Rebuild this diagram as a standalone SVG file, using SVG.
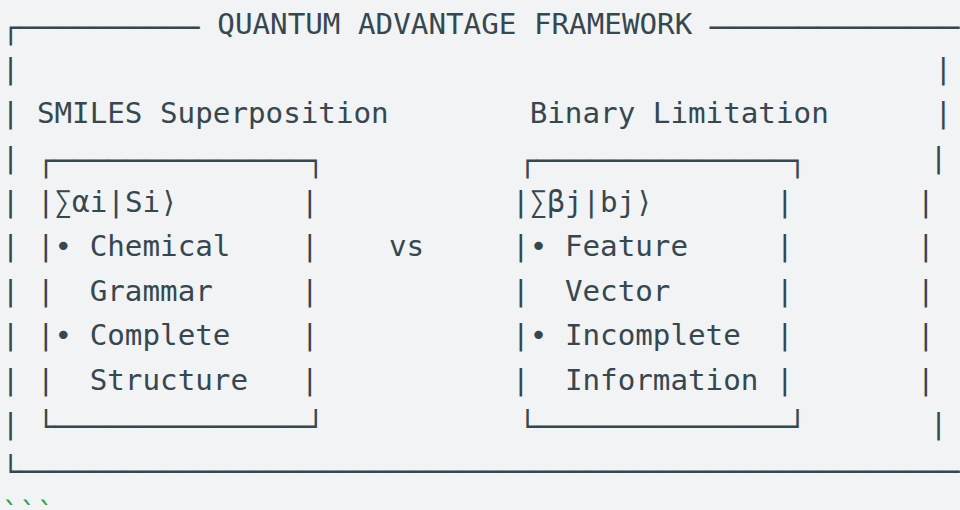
<svg xmlns="http://www.w3.org/2000/svg" width="960" height="510" viewBox="0 0 960 510">
<style>
.t{font-family:"DejaVu Sans Mono","Liberation Mono",monospace;font-size:29.23px;fill:#37474f}
.b{font-family:"DejaVu Sans Mono","Liberation Mono",monospace;font-size:29.9px;fill:#37474f}
.g{font-family:"DejaVu Sans Mono","Liberation Mono",monospace;font-size:29.23px;fill:#2f9e44}
</style>
<rect width="960" height="510" fill="#f1f3f5"/>
<g id="frame">
  <text class="b" x="1.7" y="37.8">┌──────────</text>
  <text class="t" x="217.3" y="34.3">QUANTUM ADVANTAGE FRAMEWORK</text>
  <text class="b" x="710.1" y="37.8" textLength="249.5" lengthAdjust="spacingAndGlyphs">──────────────</text>
  <text class="t" x="1.7" y="78.7">|</text><text class="t" x="934.5" y="78.7">|</text>
  <text class="t" x="1.7" y="123.1">|</text><text class="t" x="934.5" y="123.1">|</text>
  <text class="t" x="1.7" y="167.5">|</text><text class="t" x="929.7" y="167.5">|</text>
  <text class="t" x="1.7" y="211.9">|</text><text class="t" x="916.9" y="211.9">|</text>
  <text class="t" x="1.7" y="256.3">|</text><text class="t" x="916.9" y="256.3">|</text>
  <text class="t" x="1.7" y="300.7">|</text><text class="t" x="916.9" y="300.7">|</text>
  <text class="t" x="1.7" y="345.1">|</text><text class="t" x="916.9" y="345.1">|</text>
  <text class="t" x="1.7" y="389.5">|</text><text class="t" x="916.9" y="389.5">|</text>
  <text class="t" x="1.7" y="433.9">|</text><text class="t" x="929.7" y="433.9">|</text>
  <text class="b" x="1.7" y="481.8" textLength="958" lengthAdjust="spacingAndGlyphs">└─────────────────────────────────────────────────────</text>
</g>
<g id="smiles-superposition">
  <text class="t" x="36.9" y="123.1">SMILES Superposition</text>
  <text class="b" x="36.9" y="171">┌──────────────┐</text>
  <text class="t" x="36.9" y="211.9">|</text>
  <text class="t" x="54.5 72.1 89.7 107.3 124.9 142.5 160.1" y="211.9">∑αi|Si⟩</text>
  <text class="t" x="300.9" y="211.9">|</text>
  <text class="t" x="36.9" y="256.3">|</text><text class="t" x="54.5" y="256.3">•</text><text class="t" x="89.7" y="256.3">Chemical</text><text class="t" x="300.9" y="256.3">|</text>
  <text class="t" x="36.9" y="300.7">|</text><text class="t" x="89.7" y="300.7">Grammar</text><text class="t" x="300.9" y="300.7">|</text>
  <text class="t" x="36.9" y="345.1">|</text><text class="t" x="54.5" y="345.1">•</text><text class="t" x="89.7" y="345.1">Complete</text><text class="t" x="300.9" y="345.1">|</text>
  <text class="t" x="36.9" y="389.5">|</text><text class="t" x="89.7" y="389.5">Structure</text><text class="t" x="300.9" y="389.5">|</text>
  <text class="b" x="36.9" y="437.4">└──────────────┘</text>
</g>
<g id="versus">
  <text class="t" x="388.9" y="256.3">vs</text>
</g>
<g id="binary-limitation">
  <text class="t" x="529.7" y="123.1">Binary Limitation</text>
  <text class="b" x="518.5" y="171">┌──────────────┐</text>
  <text class="t" x="512.1" y="211.9">|</text>
  <text class="t" x="529.7 547.3 564.9 582.5 600.1 617.7 635.3" y="211.9">∑βj|bj⟩</text>
  <text class="t" x="776.1" y="211.9">|</text>
  <text class="t" x="512.1" y="256.3">|</text><text class="t" x="529.7" y="256.3">•</text><text class="t" x="564.9" y="256.3">Feature</text><text class="t" x="776.1" y="256.3">|</text>
  <text class="t" x="512.1" y="300.7">|</text><text class="t" x="564.9" y="300.7">Vector</text><text class="t" x="776.1" y="300.7">|</text>
  <text class="t" x="512.1" y="345.1">|</text><text class="t" x="529.7" y="345.1">•</text><text class="t" x="564.9" y="345.1">Incomplete</text><text class="t" x="776.1" y="345.1">|</text>
  <text class="t" x="512.1" y="389.5">|</text><text class="t" x="564.9" y="389.5">Information</text><text class="t" x="776.1" y="389.5">|</text>
  <text class="b" x="518.5" y="437.4">└──────────────┘</text>
</g>
<g id="connectors"></g>
<g id="code-fence">
  <text class="g" x="1.7" y="522.7">```</text>
</g>
</svg>
